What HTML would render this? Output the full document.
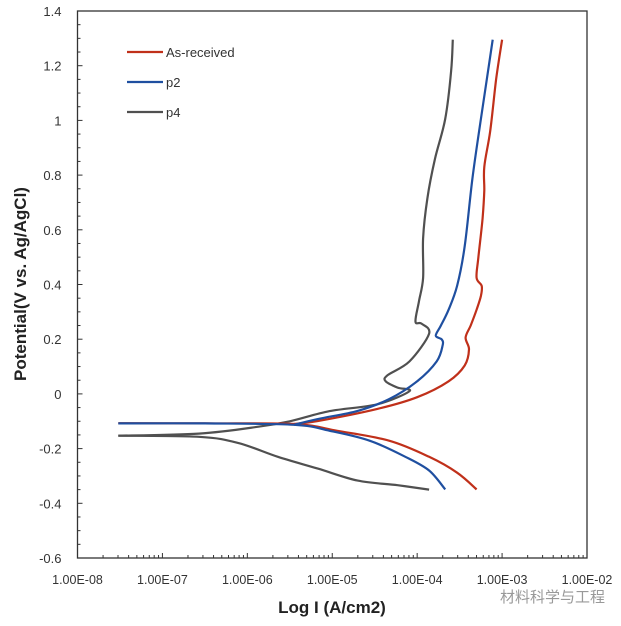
<!DOCTYPE html>
<html><head><meta charset="utf-8"><style>
body{margin:0;background:#fff;width:621px;height:621px;overflow:hidden}
svg text{font-family:"Liberation Sans","Noto Sans CJK SC",sans-serif}
</style></head><body>
<svg id="chart" width="621" height="621" xmlns="http://www.w3.org/2000/svg"></svg>
<script>
const xTicks=[-8,-7,-6,-5,-4,-3,-2];
const xTickLabels=["1.00E-08","1.00E-07","1.00E-06","1.00E-05","1.00E-04","1.00E-03","1.00E-02"];
const yTicks=[-0.6,-0.4,-0.2,0,0.2,0.4,0.6,0.8,1,1.2,1.4];
const yTickLabels=["-0.6","-0.4","-0.2","0","0.2","0.4","0.6","0.8","1","1.2","1.4"];
const seriesNames=["As-received","p2","p4"];
const seriesColors=["#c0301a","#1f4fa0","#505050"];
const redLog=[-7.52,-6.5,-5.45,-4.94,-4.33,-3.86,-3.53,-3.30];
const redV=[-0.107,-0.108,-0.11,-0.135,-0.171,-0.23,-0.288,-0.349];
const redALog=[-5.45,-5.17,-4.47,-4.0,-3.63,-3.44,-3.39,-3.43,-3.37,-3.30,-3.25,-3.24,-3.30,-3.28,-3.23,-3.21,-3.21,-3.14,-3.07,-3.0];
const redAV=[-0.11,-0.099,-0.055,-0.012,0.046,0.104,0.163,0.206,0.25,0.308,0.358,0.395,0.424,0.497,0.642,0.744,0.83,0.961,1.15,1.295];
const blueLog=[-7.52,-6.5,-5.45,-5.03,-4.56,-4.14,-3.86,-3.67];
const blueV=[-0.108,-0.108,-0.113,-0.135,-0.171,-0.23,-0.28,-0.349];
const blueALog=[-5.45,-5.17,-4.70,-4.33,-4.0,-3.77,-3.70,-3.71,-3.78,-3.72,-3.63,-3.53,-3.44,-3.35,-3.25,-3.11];
const blueAV=[-0.113,-0.092,-0.062,-0.019,0.046,0.119,0.177,0.199,0.213,0.25,0.308,0.395,0.54,0.787,1.005,1.295];
const grayLog=[-7.52,-6.57,-6.11,-5.64,-5.17,-4.70,-4.23,-3.86];
const grayV=[-0.153,-0.157,-0.179,-0.23,-0.273,-0.317,-0.334,-0.35];
const grayALog=[-7.52,-6.57,-5.87,-5.50,-5.03,-4.47,-4.09,-4.23,-4.37,-4.35,-4.09,-3.86,-3.95,-4.02,-3.98,-3.93,-3.93,-3.88,-3.79,-3.67,-3.60,-3.58];
const grayAV=[-0.153,-0.145,-0.12,-0.10,-0.063,-0.038,0.01,0.023,0.046,0.068,0.119,0.22,0.257,0.264,0.337,0.424,0.569,0.715,0.86,1.005,1.18,1.295];

const L=77.5,R=587,T=11,B=558;
const sx=v=>L+(v+8)/6*(R-L);
const sy=v=>B-(v+0.6)/2*(B-T);
const svg=document.getElementById('chart');
const NS="http://www.w3.org/2000/svg";
function mk(tag,attrs,parent){const e=document.createElementNS(NS,tag);for(const k in attrs)e.setAttribute(k,attrs[k]);(parent||svg).appendChild(e);return e;}
const frame=mk('rect',{x:L,y:T,width:R-L,height:B-T,fill:'none',stroke:'#333','stroke-width':1.3});


for(let v=-0.6;v<=1.4001;v+=0.05){const y=sy(v);const major=Math.abs(Math.round(v*5)-v*5)<1e-6;
 const t=mk('line',{x1:L,x2:L+(major?5:3),y1:y,y2:y,stroke:'#333','stroke-width':1});
 
 }
yTicks.forEach((v,i)=>{const t=mk('text',{x:L-16,y:sy(v)+5,'text-anchor':'end','font-size':13,fill:'#333'});t.textContent=yTickLabels[i];
 
 });
for(let d=-8;d<-2;d++){for(let m=1;m<10;m++){const x=sx(d+Math.log10(m));
 const t=mk('line',{x1:x,x2:x,y1:B,y2:B-(m==1?5:3),stroke:'#333','stroke-width':1});
 
 }}
xTicks.forEach((v,i)=>{const t=mk('text',{x:sx(v),y:584,'text-anchor':'middle','font-size':12.5,fill:'#333'});t.textContent=xTickLabels[i];
 
 });
function line(xs,ys,color,name){
 const P=xs.map((x,i)=>[sx(x),sy(ys[i])]);
 let d='M'+P[0][0].toFixed(1)+','+P[0][1].toFixed(1);
 for(let i=0;i<P.length-1;i++){const p0=P[Math.max(0,i-1)],p1=P[i],p2=P[i+1],p3=P[Math.min(P.length-1,i+2)];
  const c1=[p1[0]+(p2[0]-p0[0])/6,p1[1]+(p2[1]-p0[1])/6],c2=[p2[0]-(p3[0]-p1[0])/6,p2[1]-(p3[1]-p1[1])/6];
  d+='C'+c1[0].toFixed(1)+','+c1[1].toFixed(1)+' '+c2[0].toFixed(1)+','+c2[1].toFixed(1)+' '+p2[0].toFixed(1)+','+p2[1].toFixed(1);}
 const p=mk('path',{d:d,fill:'none',stroke:color,'stroke-width':2.2,'stroke-linejoin':'round'});
 
 }
line(grayLog,grayV,seriesColors[2],'p4-cathodic-line');
line(grayALog,grayAV,seriesColors[2],'p4-anodic-line');
line(redLog,redV,seriesColors[0],'as-received-cathodic-line');
line(redALog,redAV,seriesColors[0],'as-received-anodic-line');
line(blueLog,blueV,seriesColors[1],'p2-cathodic-line');
line(blueALog,blueAV,seriesColors[1],'p2-anodic-line');
seriesNames.forEach((n,i)=>{const y=52+i*30;
 const l=mk('line',{x1:127,x2:163,y1:y,y2:y,stroke:seriesColors[i],'stroke-width':2.2});
 
 
 const t=mk('text',{x:166,y:y+5,'font-size':13,fill:'#333'});t.textContent=n;
 
 });
const yt=mk('text',{x:0,y:0,transform:'translate(26,284) rotate(-90)','text-anchor':'middle','font-size':17,'font-weight':'bold',fill:'#222'});
yt.textContent='Potential(V  vs. Ag/AgCl)';


const xt=mk('text',{x:332,y:613,'text-anchor':'middle','font-size':17,'font-weight':'bold',fill:'#222'});
xt.textContent='Log I (A/cm2)';


const wm=mk('text',{x:500,y:602,'font-size':15,fill:'#999'});
wm.textContent='材料科学与工程';


</script>
</body></html>
